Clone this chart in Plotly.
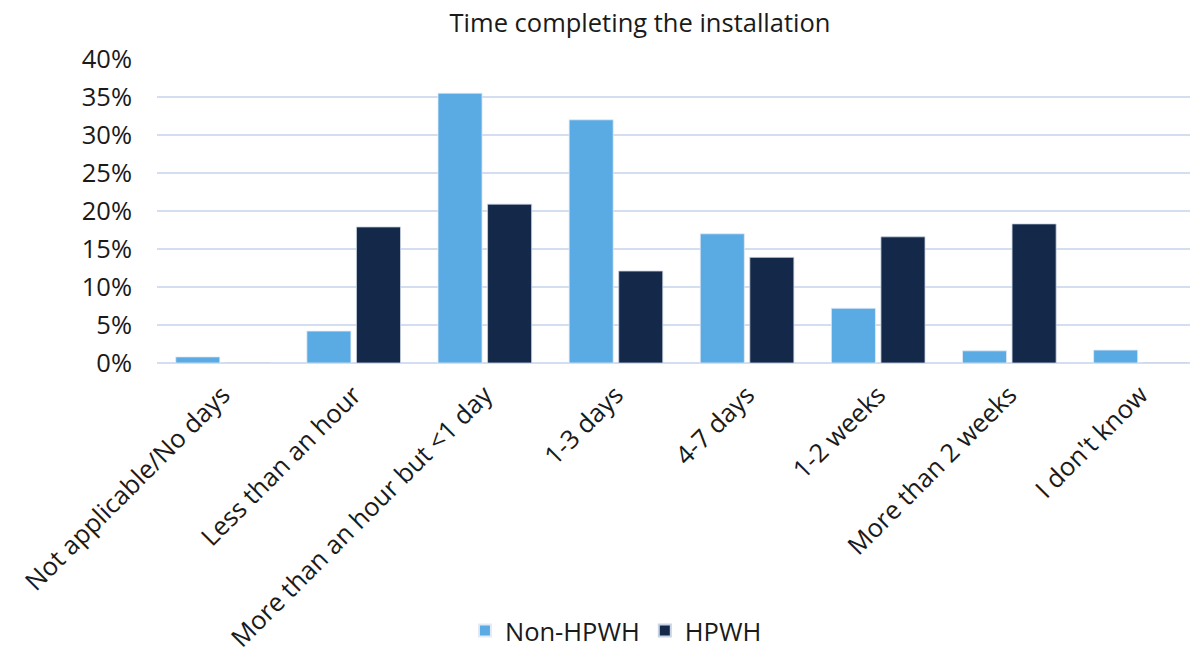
import plotly.graph_objects as go

categories = ["Not applicable/No days", "Less than an hour", "More than an hour but <1 day",
              "1-3 days", "4-7 days", "1-2 weeks", "More than 2 weeks", "I don't know"]
non_hpwh = [0.008, 0.042, 0.355, 0.320, 0.170, 0.072, 0.016, 0.017]
hpwh = [0.0, 0.179, 0.209, 0.121, 0.139, 0.166, 0.183, 0.0]
y_ticks = [0, 0.05, 0.10, 0.15, 0.20, 0.25, 0.30, 0.35, 0.40]
y_tick_labels = ["0%", "5%", "10%", "15%", "20%", "25%", "30%", "35%", "40%"]

FONT = "Open Sans"
FS = 25.5
fig = go.Figure()
fig.add_trace(go.Bar(name="Non-HPWH", x=categories, y=non_hpwh,
                     marker=dict(color="#5AAAE4", line=dict(color="#E3EAF5", width=0.8))))
fig.add_trace(go.Bar(name="HPWH", x=categories, y=hpwh,
                     marker=dict(color="#142949", line=dict(color="#C9D3E3", width=0.8))))

fig.update_layout(
    width=1198, height=645,
    paper_bgcolor="white", plot_bgcolor="white",
    margin=dict(l=149, r=0, t=51, b=290, autoexpand=False),
    font=dict(family=FONT, size=FS, color="#1a1a1a"),
    title=dict(text="Time completing the installation", x=632 / 1198, xanchor="center",
               y=1 - 15 / 645, yref="container", yanchor="middle",
               font=dict(size=FS, family=FONT, color="#1a1a1a")),
    barmode="group", bargap=0.244, bargroupgap=0.111,
    showlegend=True,
    legend=dict(orientation="h", x=0.4375, xanchor="center", y=22 / 645, yanchor="middle",
                yref="container", font=dict(size=FS, family=FONT), itemsizing="constant",
                itemwidth=30, traceorder="normal"),
    xaxis=dict(tickangle=-45, range=[-0.5, 7.5], showgrid=False, showline=False,
               automargin=False, ticklabelstandoff=11,
               tickfont=dict(size=FS, family=FONT), ticks=""),
    yaxis=dict(range=[0, 0.40], tickvals=y_ticks, ticktext=y_tick_labels,
               showgrid=True, gridcolor="#D3DEF1", gridwidth=2, automargin=False,
               zeroline=True, zerolinecolor="#D3DEF1", zerolinewidth=2,
               tickfont=dict(size=FS, family=FONT), ticklabelstandoff=24, ticks=""),
)
fig.write_html("out.html")
